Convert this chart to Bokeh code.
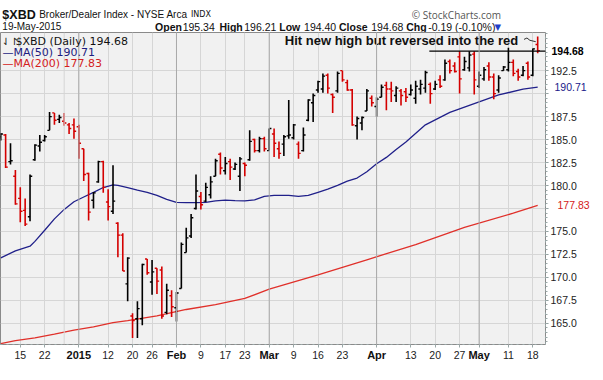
from bokeh.plotting import figure
from bokeh.layouts import column
from bokeh.models import (Label, FixedTicker, Range1d, Span, NumeralTickFormatter, ColumnDataSource,
                          LinearAxis)
from bokeh.core.properties import value
from bokeh.embed import file_html
from bokeh.resources import INLINE

# ---- data (trading-day index: 0 = 15-Dec-2014, 106 = 19-May-2015) ----
day_index = list(range(-4, 107))
opens = [185.3, 185.5, 182.6, 181.0, 178.6, 177.3, 176.6, 182.8, 184.3, 184.9,
         186.0, 187.9, 187.2, 187.0, 186.6, 186.6, 186.4, 184.0, 181.3, 178.4,
         180.4, 182.6, 178.2, 177.2, 175.9, 174.6, 169.3, 165.8, 165.5, 165.5,
         172.0, 169.5, 171.0, 170.8, 166.2, 168.0, 166.7, 168.8, 172.7, 174.5,
         177.5, 178.8, 178.3, 179.0, 181.0, 183.4, 181.6, 182.6, 181.8, 181.0,
         182.4, 182.8, 185.0, 183.8, 185.1, 183.8, 185.6, 184.0, 184.5, 185.4,
         185.2, 184.5, 183.8, 187.1, 189.0, 190.4, 190.5, 192.0, 189.9, 190.3,
         192.5, 191.2, 190.4, 186.5, 186.8, 188.1, 189.5, 188.6, 189.6, 190.9,
         190.5, 189.8, 190.3, 190.2, 189.9, 189.5, 190.5, 190.6, 191.0, 190.5,
         191.5, 191.5, 193.5, 193.0, 194.0, 192.6, 192.8, 194.3, 190.8, 191.6,
         193.0, 191.8, 190.4, 192.5, 192.6, 193.4, 192.4, 192.0, 193.3, 192.0,
         195.34]
highs = [185.7, 185.6, 184.6, 181.7, 179.8, 178.6, 181.2, 184.5, 185.5, 185.5,
         188.0, 187.9, 187.7, 187.9, 186.8, 187.3, 186.6, 184.0, 181.4, 179.3,
         182.7, 182.7, 179.6, 182.2, 176.0, 174.8, 172.2, 166.1, 167.4, 171.5,
         172.0, 171.9, 171.0, 171.2, 169.3, 168.6, 168.4, 173.8, 175.4, 176.9,
         181.2, 179.3, 180.3, 181.0, 182.9, 183.6, 183.1, 182.9, 182.5, 183.1,
         182.5, 186.0, 185.1, 185.3, 185.3, 186.2, 186.2, 184.8, 185.5, 189.3,
         186.7, 184.8, 186.3, 189.4, 190.0, 191.4, 192.2, 192.2, 190.0, 192.4,
         192.5, 191.5, 190.5, 187.5, 187.5, 190.5, 189.8, 189.6, 191.0, 191.3,
         191.3, 190.8, 190.5, 190.6, 191.0, 191.4, 191.5, 192.5, 191.2, 191.4,
         192.0, 193.7, 193.7, 193.4, 194.6, 194.0, 194.6, 194.6, 192.4, 192.9,
         193.4, 192.2, 192.0, 193.0, 195.0, 193.7, 192.7, 193.0, 193.5, 194.9,
         196.21]
lows = [184.9, 181.9, 182.3, 177.9, 176.0, 175.6, 176.1, 182.7, 183.7, 184.8,
        186.0, 186.6, 186.8, 186.5, 185.6, 185.1, 182.9, 180.5, 176.2, 177.5,
        180.3, 179.2, 176.2, 176.9, 172.2, 170.7, 167.4, 163.4, 163.4, 164.8,
        170.3, 168.1, 168.2, 165.5, 166.0, 165.7, 165.2, 168.8, 172.7, 174.3,
        177.4, 177.4, 178.2, 178.6, 181.0, 181.2, 181.2, 180.6, 181.7, 179.4,
        181.0, 182.7, 183.6, 183.6, 183.7, 183.8, 183.1, 182.9, 183.2, 185.1,
        185.0, 182.9, 183.7, 187.0, 186.9, 190.1, 190.1, 190.0, 187.9, 190.1,
        191.3, 190.3, 186.5, 185.0, 186.0, 188.1, 188.6, 187.5, 189.6, 188.2,
        189.1, 189.1, 188.7, 189.1, 189.8, 188.9, 189.9, 190.1, 188.9, 190.4,
        190.6, 191.4, 192.2, 192.3, 190.0, 192.5, 192.4, 189.9, 190.6, 191.4,
        191.4, 189.4, 190.1, 192.5, 192.4, 191.9, 191.4, 191.9, 191.5, 191.9,
        194.40]
closes = [185.6, 182.0, 182.7, 178.0, 177.2, 175.8, 181.0, 184.4, 184.7, 185.3,
          187.5, 187.1, 187.4, 186.8, 186.2, 185.9, 184.6, 181.2, 177.1, 179.2,
          182.6, 179.8, 177.7, 178.3, 174.6, 170.7, 172.1, 165.3, 166.6, 171.4,
          170.5, 170.6, 169.6, 165.8, 168.6, 166.8, 168.3, 173.6, 174.3, 176.5,
          179.4, 177.9, 179.8, 180.4, 182.7, 181.9, 182.4, 182.0, 182.3, 182.9,
          182.2, 184.8, 183.8, 185.1, 184.0, 186.2, 184.6, 183.5, 185.3, 185.5,
          186.6, 183.5, 185.5, 189.3, 189.8, 191.3, 191.9, 190.6, 189.6, 192.2,
          191.5, 190.4, 186.6, 187.3, 187.4, 190.3, 189.0, 189.4, 190.7, 190.5,
          190.3, 190.6, 189.8, 189.6, 190.4, 190.8, 191.0, 192.3, 190.0, 191.0,
          190.8, 193.3, 192.5, 192.4, 191.6, 193.5, 194.2, 191.5, 192.0, 192.6,
          191.8, 190.0, 191.7, 192.9, 193.4, 192.2, 191.8, 192.5, 191.8, 194.87,
          194.68]

ma50_idx = [-4, -1, 2, 3, 5, 7, 9, 11, 13, 15, 17, 19, 20, 22, 24, 26, 28, 30, 32, 34,
            36, 38, 40, 42, 44, 46, 48, 50, 52, 55, 57, 59, 61, 63, 65, 67, 69, 71, 73,
            75, 77, 79, 83, 88, 93, 98, 103, 106]
ma50_val = [172.13, 172.88, 173.4, 173.92, 175.13, 176.37, 177.4, 178.23, 178.75, 179.26,
            179.78, 180.06, 180.02, 179.78, 179.5, 179.26, 178.92, 178.5, 178.16, 178.13,
            178.13, 178.16, 178.33, 178.4, 178.36, 178.33, 178.44, 178.82, 178.92, 178.92,
            178.82, 178.92, 179.26, 179.6, 180.02, 180.47, 180.81, 181.5, 182.37, 183.06,
            183.92, 184.74, 186.6, 187.95, 188.91, 189.86, 190.48, 190.71]
ma200_idx = [-4, -1, 3, 7, 11, 15, 19, 22, 28, 34, 40, 46, 51, 61, 71, 81, 91, 101, 106]
ma200_val = [162.79, 163.13, 163.41, 163.82, 164.27, 164.61, 165.07, 165.3, 165.82, 166.51,
             167.03, 167.71, 168.72, 170.27, 171.92, 173.58, 175.44, 176.99, 177.83]

tick_idx = [0, 5, 12, 18, 23, 27, 32, 37, 42, 46, 51, 56, 61, 66, 73, 80, 85, 90, 94, 100, 105]
tick_labels = ["15", "22", "2015", "12", "20", "26", "Feb", "9", "17", "23", "Mar", "9", "16",
               "23", "Apr", "13", "20", "27", "May", "11", "18"]
bold_ticks = ["2015", "Feb", "Mar", "Apr", "May"]
y_ticks = [165.0, 167.5, 170.0, 172.5, 175.0, 177.5, 180.0, 182.5, 185.0, 187.5, 190.0, 192.5]
hidden_y_ticks = [177.5, 190.0]          # covered by the MA price tags
resistance_level = 194.62
last_close, ma50_last, ma200_last = 194.68, 190.71, 177.83

UP, DOWN = "#000000", "#d40000"
NAVY, RED = "#20208a", "#e0302a"
colors = [UP] + [UP if closes[i] >= closes[i - 1] else DOWN for i in range(1, len(closes))]
src = ColumnDataSource(dict(
    x=day_index, xl=[d - 0.45 for d in day_index], xr=[d + 0.45 for d in day_index],
    o=opens, h=highs, l=lows, c=closes, color=colors))

FONT = "Liberation Sans"
W, HH = 587, 32
FW, FH = 545, 312

# ---------------- header strip ----------------
hdr = figure(width=W, height=HH, x_range=Range1d(0, W), y_range=Range1d(HH, 0),
             x_axis_type=None, y_axis_type=None, toolbar_location=None, output_backend="svg",
             min_border=0, outline_line_color=None)
hdr.grid.visible = False


def htext(x, y, t, size, bold=False, color="#111111", font=FONT, align="left"):
    hdr.text(x=[x], y=[y], text=[t], text_font=value(font), text_font_size=size,
             text_font_style="bold" if bold else "normal", text_color=color,
             text_align=align, text_baseline="alphabetic")


L1, L2 = 14, 26
htext(2, L1, "$XBD", "12.5px", bold=True)
htext(42, L1, "Broker/Dealer Index - NYSE Arca", "10px")
htext(207, L1, "INDX", "8px", font="DejaVu Sans")
htext(2, L2, "19-May-2015", "10px")
htext(544, L1, "\u00a9 StockCharts.com", "10px", color="#555555", font="Open Sans", align="right")
for x, t, b in [(168, "Open", True), (198, "195.34", False), (238, "High", True), (265, "196.21", False),
                (303, "Low", True), (330, "194.40", False), (368, "Close", True), (403, "194.68", False),
                (441, "Chg", True), (465, "-0.19 (-0.10%)", False)]:
    htext(x, L2, t, "10.5px", bold=b)
htext(537, L2, "\u25bc", "8.5px", color="#1f3fc8", font="DejaVu Sans")

# ---------------- main chart ----------------
p = figure(frame_width=FW, frame_height=FH, output_backend="svg", toolbar_location=None,
           x_range=Range1d(-4.05, 107.6), y_range=Range1d(162.7, 196.65),
           y_axis_location="right", min_border_left=0, min_border_right=W - FW,
           min_border_top=0, min_border_bottom=20)
p.background_fill_color = "#f1f1f1"
p.border_fill_color = "white"
p.outline_line_color = "#8a8a8a"

# date axis: day numbers (normal) ...
xa = p.xaxis[0]
xa.ticker = FixedTicker(ticks=tick_idx)
xa.major_label_overrides = {t: ("" if lab in bold_ticks else lab) for t, lab in zip(tick_idx, tick_labels)}
xa.major_label_text_font = FONT
xa.major_label_text_font_size = "10.5px"
xa.major_label_text_color = "#222222"
xa.axis_line_color = "#9aa8a8"
xa.axis_line_dash = "dotted"
xa.major_tick_line_color = "#9aa8a8"
xa.major_tick_out = 3
xa.major_tick_in = 0
xa.minor_tick_line_color = None
xa.major_label_standoff = 3

# ... and bold month/year names on the same row
month_ticks = [t for t, lab in zip(tick_idx, tick_labels) if lab in bold_ticks]
xb = LinearAxis(ticker=FixedTicker(ticks=month_ticks),
                major_label_overrides={t: lab for t, lab in zip(tick_idx, tick_labels) if lab in bold_ticks},
                major_label_text_font=FONT, major_label_text_font_size="11px",
                major_label_text_font_style="bold", major_label_text_color="#111111",
                axis_line_color=None, major_tick_line_color=None, minor_tick_line_color=None,
                major_tick_out=0, major_tick_in=0, major_label_standoff=-13)
p.add_layout(xb, "below")

ya = p.yaxis[0]
ya.ticker = FixedTicker(ticks=y_ticks, minor_ticks=[165 + 0.5 * k for k in range(-4, 64)])
ya.formatter = NumeralTickFormatter(format="0.0")
ya.major_label_overrides = {t: "" for t in hidden_y_ticks}
ya.major_label_text_font = FONT
ya.major_label_text_font_size = "10.5px"
ya.major_label_text_color = "#222222"
ya.axis_line_color = "#9aa8a8"
ya.axis_line_dash = "dotted"
ya.major_tick_line_color = "#8a9a9a"
ya.major_tick_out = 3
ya.major_tick_in = 0
ya.minor_tick_line_color = "#9aa8a8"
ya.minor_tick_out = 2
ya.major_label_standoff = 2

# price tags for last close and moving averages, on the price axis
for val, col, bold, so in [(last_close, "#000000", True, -28), (ma50_last, NAVY, False, -32),
                           (ma200_last, "#d42020", False, -32)]:
    ax = LinearAxis(ticker=FixedTicker(ticks=[val]), formatter=NumeralTickFormatter(format="0.00"),
                    major_label_text_font=FONT, major_label_text_font_size="10.5px",
                    major_label_text_font_style="bold" if bold else "normal",
                    major_label_text_color=col, axis_line_color=None, major_tick_line_color=None,
                    minor_tick_line_color=None, major_tick_out=0, major_tick_in=0,
                    major_label_standoff=so)
    p.add_layout(ax, "right")

p.xgrid.grid_line_color = "#d6d6d6"
p.ygrid.grid_line_color = "#d6d6d6"
for t in month_ticks:
    p.add_layout(Span(location=t, dimension="height", line_color="#a9a9a9", line_width=1))
p.add_layout(Span(location=9, dimension="height", line_color="#d6d6d6", line_width=1))

# moving averages
p.line(ma50_idx, ma50_val, line_color=NAVY, line_width=1.3)
p.line(ma200_idx, ma200_val, line_color=RED, line_width=1.3)

# OHLC bars
p.segment(x0="x", y0="l", x1="x", y1="h", line_color="color", line_width=1.6, source=src)
p.segment(x0="xl", y0="o", x1="x", y1="o", line_color="color", line_width=1.4, source=src)
p.segment(x0="x", y0="c", x1="xr", y1="c", line_color="color", line_width=1.4, source=src)

# annotation
p.segment(x0=[83.8], y0=[resistance_level], x1=[107.6], y1=[resistance_level],
          line_color="black", line_width=1.2)
p.text(x=[102], y=[195.8], text=["Hit new high but reversed into the red"],
       text_font=value(FONT), text_font_style="bold", text_font_size="13px",
       text_align="right", text_baseline="middle", text_color="#111111")
p.line([103.2, 103.8, 104.4, 105.6], [195.9, 196.05, 195.8, 195.65], line_color="#333333", line_width=1)


# legend (screen units: from frame left / frame bottom)
def lab(x, y, text, size, color="#111111", font="DejaVu Sans"):
    p.add_layout(Label(x=x, y=y, x_units="screen", y_units="screen", text=text,
                       text_font=font, text_font_size=size, text_color=color,
                       text_align="left", text_baseline="alphabetic"))


lab(1, FH - 9, "\u21c3\u21be", "10px")
lab(15, FH - 9, "$XBD (Daily) 194.68", "11px")
lab(2, FH - 20, "\u2014MA(50) 190.71", "11px", color="#1c1c80")
lab(2, FH - 31, "\u2014MA(200) 177.83", "11px", color="#d42020")

layout = column(hdr, p, spacing=0)
open("out.html", "w").write(file_html(layout, INLINE))
